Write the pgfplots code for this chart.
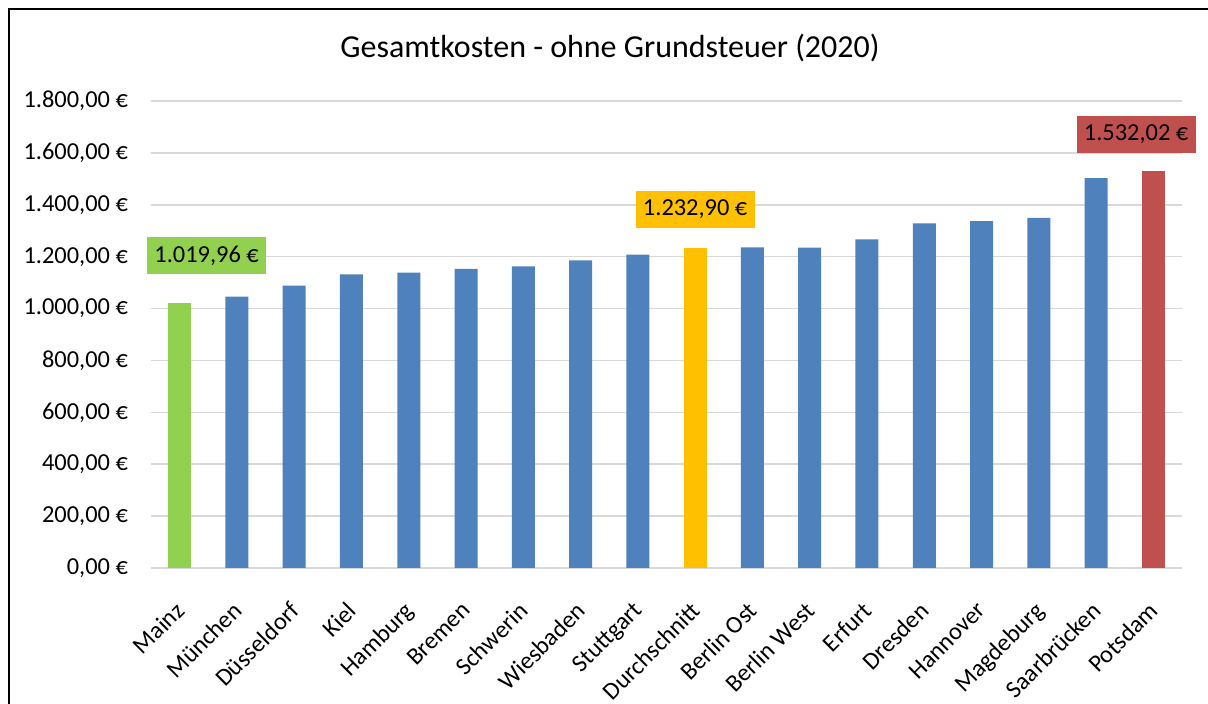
\documentclass[border=0pt]{standalone}
\usepackage{fontspec}
\setmainfont{Carlito}
\usepackage{pgfplots}
\pgfplotsset{compat=1.18}
\definecolor{cblue}{HTML}{4F81BD}
\definecolor{cgreen}{HTML}{92D050}
\definecolor{cyellow}{HTML}{FFC000}
\definecolor{cred}{HTML}{C0504D}
\definecolor{cgrid}{HTML}{D9D9D9}
\begin{document}
\begin{tikzpicture}
\path[use as bounding box] (0,0) rectangle (604pt,352pt);
\draw[line width=1pt] (4.5pt,0) -- (4.5pt,347.5pt) -- (604pt,347.5pt);
\node[font=\fontsize{16}{19}\selectfont] at (305pt,328pt) {Gesamtkosten - ohne Grundsteuer (2020)};
\begin{axis}[
  at={(75.5pt,68pt)}, anchor=south west,
  scale only axis, width=515.5pt, height=233.5pt,
  xmin=-0.5, xmax=17.5, ymin=0, ymax=1800,
  ytick={0,200,...,1800},
  yticklabels={{0,00 €},{200,00 €},{400,00 €},{600,00 €},{800,00 €},{1.000,00 €},{1.200,00 €},{1.400,00 €},{1.600,00 €},{1.800,00 €}},
  xtick={0,...,17},
  xticklabels={Mainz,München,Düsseldorf,Kiel,Hamburg,Bremen,Schwerin,Wiesbaden,Stuttgart,Durchschnitt,Berlin Ost,Berlin West,Erfurt,Dresden,Hannover,Magdeburg,Saarbrücken,Potsdam},
  axis line style={draw=none},
  major tick length=0pt,
  ymajorgrids, grid style={draw=cgrid, line width=0.8pt},
  ybar, bar width=11.5pt, bar shift=0pt,
  tick label style={font=\fontsize{12.2}{14.5}\selectfont},
  xticklabel style={rotate=45, anchor=north east, xshift=-10pt, yshift=-6pt},
  yticklabel style={xshift=-8pt},
  clip=false,
]
\addplot[fill=cblue, draw=none] coordinates {
  (1,1046) (2,1088) (3,1132) (4,1138) (5,1153) (6,1163) (7,1186) (8,1208)
  (10,1236) (11,1235) (12,1267) (13,1328) (14,1337) (15,1349) (16,1503)};
\addplot[fill=cgreen, draw=none, nodes near coords={1.019,96 €},
  nodes near coords style={fill=cgreen, anchor=center, xshift=13.5pt, yshift=23.75pt,
    minimum width=59.5pt, minimum height=18.5pt, inner sep=0pt, text=black,
    font=\fontsize{12.2}{14.5}\selectfont}] coordinates {(0,1019.96)};
\addplot[fill=cyellow, draw=none, nodes near coords={1.232,90 €},
  nodes near coords style={fill=cyellow, anchor=center, xshift=0pt, yshift=19.5pt,
    minimum width=59.5pt, minimum height=18.5pt, inner sep=0pt, text=black,
    font=\fontsize{12.2}{14.5}\selectfont}] coordinates {(9,1232.90)};
\addplot[fill=cred, draw=none, nodes near coords={1.532,02 €},
  nodes near coords style={fill=cred, anchor=center, xshift=-8.65pt, yshift=18.25pt,
    minimum width=59.5pt, minimum height=18.5pt, inner sep=0pt, text=black,
    font=\fontsize{12.2}{14.5}\selectfont}] coordinates {(17,1532.02)};
\end{axis}
\end{tikzpicture}
\end{document}
